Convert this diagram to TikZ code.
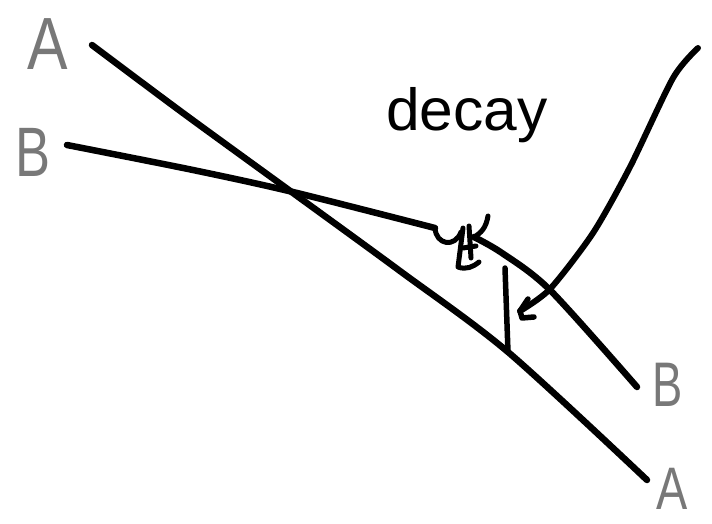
\documentclass[tikz,border=0pt]{standalone}
\usepackage{fontspec}
\setmainfont{Liberation Sans}
\definecolor{labelgray}{RGB}{120,120,120}
\begin{document}
\begin{tikzpicture}[x=1pt,y=-1pt,
  stroke/.style={line width=6.5pt, line cap=round, line join=round, black},
  scribble/.style={line width=5pt, line cap=round, line join=round, black},
  lbl/.style={text=labelgray, inner sep=0pt}]
\useasboundingbox (0,0) rectangle (712,523);
% labels
\node[lbl, font=\fontsize{74}{74}\selectfont, xscale=0.82] (lA1) at (48,44) {A};
\node[lbl, font=\fontsize{70}{70}\selectfont, xscale=0.75] (lB1) at (33,152) {B};
\node[lbl, font=\fontsize{63}{63}\selectfont, xscale=0.72] (lB2) at (668,385) {B};
\node[lbl, font=\fontsize{60}{60}\selectfont, xscale=0.78] (lA2) at (672,489) {A};
\node[inner sep=0pt, anchor=base, font=\fontsize{54}{54}\selectfont, xscale=1.12, yscale=1.1] (decay) at (467,130) {decay};
% line A
\coordinate (a1) at (92,45);
\coordinate (a2) at (183,113);
\coordinate (a3) at (293,193);
\coordinate (a4) at (400,271);
\coordinate (a5) at (508,352);
\coordinate (a6) at (647,480);
\draw[stroke] plot[smooth, tension=0.5] coordinates {(a1) (a2) (a3) (a4) (a5) (a6)};
% line B, first part
\coordinate (b1) at (67,145);
\coordinate (b2) at (193,170);
\coordinate (b3) at (293,192);
\coordinate (b4) at (435,228);
\draw[stroke] plot[smooth, tension=0.5] coordinates {(b1) (b2) (b3) (b4)};
% line B, second part
\coordinate (c1) at (474,237);
\coordinate (c2) at (502,253);
\coordinate (c3) at (550,290);
\coordinate (c4) at (637,387);
\draw[stroke] plot[smooth, tension=0.5] coordinates {(c1) (c2) (c3) (c4)};
% scribble at the kink
\draw[scribble] (b4) .. controls (436,245) and (455,248) .. (461,232);
\draw[scribble] (463,228) -- (458,267) .. controls (466,270) and (473,267) .. (479,262);
\draw[scribble] (469,226) -- (471,258);
\draw[scribble] (488,216) .. controls (486,228) and (481,233) .. (c1);
\draw[scribble] (463,248) -- (476,246);
% vertical segment
\coordinate (v1) at (505,268);
\coordinate (v2) at (508,352);
\draw[scribble, line width=5.5pt] (v1) -- (v2);
% arrow from decay region
\coordinate (r1) at (698,48);
\coordinate (r2) at (673,78);
\coordinate (r3) at (630,167);
\coordinate (r4) at (593,233);
\coordinate (r5) at (550,289);
\coordinate (r6) at (520,311);
\draw[stroke, line width=6pt] plot[smooth, tension=0.45] coordinates {(r1) (r2) (r3) (r4) (r5) (r6)};
\draw[scribble, line width=5.5pt] (528,299) -- (r6) -- (522,318) -- (534,317);
\end{tikzpicture}
\end{document}
